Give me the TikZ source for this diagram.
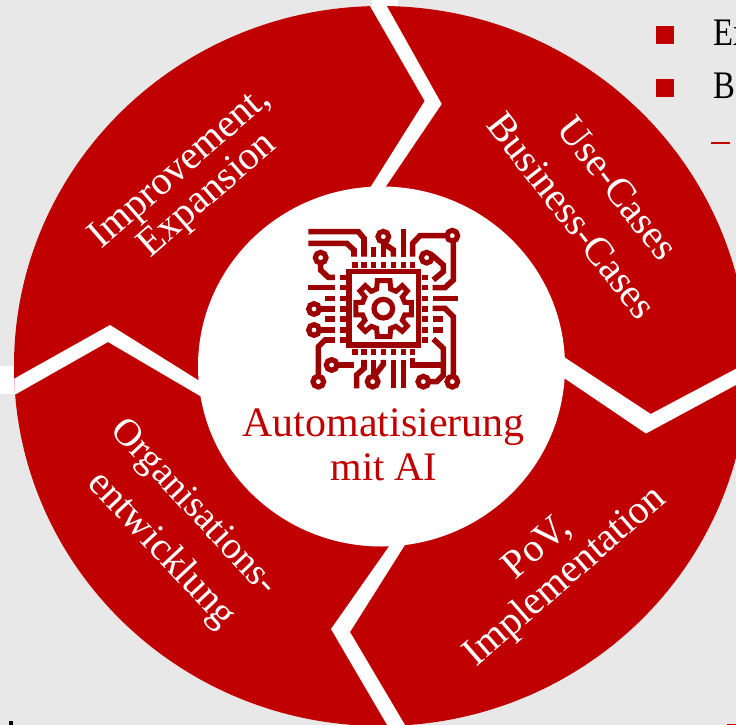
\documentclass[tikz,border=0pt]{standalone}
\usepackage{fontspec}
\setmainfont{Liberation Serif}
\definecolor{wheelred}{HTML}{C00000}
\definecolor{iconred}{HTML}{9C0000}
\definecolor{pagegray}{HTML}{E8E8E8}
\tikzset{
  seglabel/.style={text=white,inner sep=0pt,font=\fontsize{40}{44}\selectfont},
  corelabel/.style={text=wheelred,inner sep=0pt,anchor=base,font=\fontsize{42}{44}\selectfont},
  bodylabel/.style={text=black,inner sep=0pt,anchor=base west,xscale=0.84,font=\fontsize{39}{44}\selectfont},
  gap/.style={fill=white,draw=none},
  trace/.style={draw=iconred,line width=5.6pt,line join=miter},
  ringpad/.style={draw=iconred,line width=5.2pt,fill=none},
  pin/.style={fill=iconred,draw=none},
}
\begin{document}
\begin{tikzpicture}[x=1pt,y=-1pt]
\clip (0,0) rectangle (736,725);
\fill[pagegray] (0,0) rectangle (736,725);
% white stubs outside the wheel
\fill[white] (0,366) rectangle (15,394);
\fill[white] (372,0) rectangle (398,7);
% wheel
\fill[wheelred] (381,366) ellipse [x radius=367pt,y radius=360pt];
\begin{scope}
  \clip (381,366) ellipse [x radius=367pt,y radius=360pt];
  \fill[gap] (360.8,-10) -- (424.7,101) -- (358,207) -- (372,207) -- (441.7,104) -- (377.8,-10) -- cycle;
  \fill[gap] (540,341) -- (564,357) -- (650.7,414) -- (760,356) -- (760,372) -- (646,433.5) -- (564,378) -- (540,362) -- cycle;
  \fill[gap] (404,525) -- (331,629) -- (400,747) -- (418,747) -- (350,632) -- (420,521) -- cycle;
  \fill[gap] (-6,390) -- (110,325) -- (222,395) -- (224,410) -- (108,342) -- (-5,406) -- cycle;
\end{scope}
% hub
\fill[white] (381.5,366.5) ellipse [x radius=183.5pt,y radius=180pt];
% segment labels
\node[seglabel,rotate=41] (improve) at (181,169) {Improvement,};
\node[seglabel,rotate=41] (expand) at (208,196) {Expansion};
\node[seglabel,rotate=-52] (usecases) at (618,188) {Use-Cases};
\node[seglabel,rotate=-52] (bizcases) at (572,216) {Business-Cases};
\node[seglabel,rotate=41] (pov) at (538,548) {PoV,};
\node[seglabel,rotate=41] (implement) at (566,577) {Implementation};
\node[seglabel,rotate=-47,font=\fontsize{38.5}{44}\selectfont] (orga) at (193,508) {Organisations-};
\node[seglabel,rotate=-47] (entw) at (161,550) {entwicklung};
% hub text
\node[corelabel] (auto) at (383.5,436) {Automatisierung};
\node[corelabel,font=\fontsize{40.5}{44}\selectfont] (mitai) at (384,480) {mit AI};
% slide bullets, cut by the edge
\fill[wheelred] (656,26) rectangle (673.6,43.6);
\fill[wheelred] (656,79) rectangle (673.6,96.6);
\node[bodylabel] (ex) at (713,46) {Ex};
\node[bodylabel] (be) at (713,99) {Be};
\fill[wheelred] (711,141.5) rectangle (730,144);
\fill[wheelred] (727,724) rectangle (736,725);
\fill[black] (9,721) rectangle (13,725);
% icon, drawn in crop units
\begin{scope}[shift={(290,215)},x=0.3333pt,y=-0.3333pt]
  % chip
  \draw[iconred,line width=5.4pt] (177,170) rectangle (385,390);
  \foreach \px in {195,222,250,280,310,340,368}{
    \fill[pin] (\px-8,140) rectangle (\px+8,158);
    \fill[pin] (\px-8,403) rectangle (\px+8,421);
  }
  \foreach \py in {187,218,250,282,312,345,375}{
    \fill[pin] (149,\py-8) rectangle (167,\py+8);
    \fill[pin] (395,\py-8) rectangle (413,\py+8);
  }
  % gear
  \draw[iconred,line width=5pt,line join=miter]
    (262,197) -- (300,197) -- (302,222) -- (318,229) -- (337,212) -- (352,228) -- (337,246) -- (344,262)
    -- (364,262) -- (364,300) -- (344,300) -- (337,316) -- (352,333) -- (337,349) -- (318,334) -- (302,340)
    -- (300,365) -- (262,365) -- (260,340) -- (244,334) -- (226,349) -- (210,333) -- (225,316) -- (218,300)
    -- (198,300) -- (198,262) -- (218,262) -- (225,246) -- (210,228) -- (226,212) -- (244,229) -- (260,222) -- cycle;
  \draw[ringpad] (280,281) circle [radius=28];
  % traces: top
  \draw[trace] (55,50) -- (205,50) -- (222,70) -- (222,125);
  \draw[trace] (55,85) -- (170,85) -- (192,105) -- (192,125);
  \draw[trace] (250,95) -- (250,125);
  \draw[trace] (280,80) -- (280,125);
  \draw[trace] (280,85) -- (310,105) -- (310,125);
  \draw[trace] (340,42) -- (340,125);
  \draw[trace] (472,62) -- (390,62) -- (368,85) -- (368,125);
  \draw[trace] (422,117) -- (460,150) -- (460,170) -- (430,195);
  \draw[trace] (490,77) -- (490,195) -- (465,218) -- (428,218);
  % traces: left
  \draw[trace] (92,144) -- (92,165) -- (115,187) -- (135,187);
  \draw[trace] (55,218) -- (135,218);
  \draw[trace] (105,250) -- (135,250);
  \draw[trace] (88,282) -- (135,282);
  \draw[trace] (105,312) -- (135,312);
  \draw[trace] (88,345) -- (135,345);
  \draw[trace] (85,484) -- (85,395) -- (105,375) -- (135,375);
  % traces: right
  \draw[trace] (428,250) -- (505,250);
  \draw[trace] (428,280) -- (465,280) -- (490,305) -- (490,484);
  \draw[trace] (428,312) -- (460,312);
  \draw[trace] (428,345) -- (460,345);
  \draw[trace] (430,372) -- (460,400) -- (460,480) -- (440,500) -- (416,500);
  % traces: bottom
  \draw[trace] (368,430) -- (368,450) -- (452,450);
  \draw[trace] (340,435) -- (340,520);
  \draw[trace] (310,435) -- (310,520);
  \draw[trace] (280,435) -- (280,448) -- (252,484);
  \draw[trace] (250,435) -- (250,484);
  \draw[trace] (222,435) -- (222,460) -- (200,480) -- (200,520);
  \draw[trace] (142,450) -- (192,450);
  % pads
  \foreach \cx/\cy in {280/65,487/62,410/128,92/128,72/282,72/345,85/500,487/500,400/500,248/500,125/450}{
    \draw[ringpad] (\cx,\cy) circle [radius=16];
  }
\end{scope}
\end{tikzpicture}
\end{document}
